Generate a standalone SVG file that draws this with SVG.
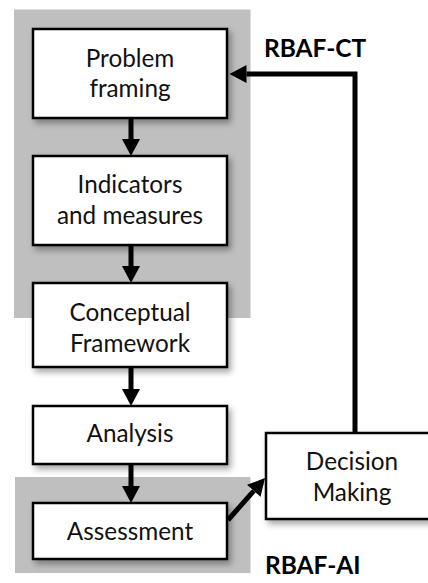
<svg xmlns="http://www.w3.org/2000/svg" width="428" height="583" viewBox="0 0 428 583">
  <style>
    .band { fill: #bfbfbf; }
    .box { fill: #ffffff; stroke: #000000; stroke-width: 2.5; filter: url(#shadow); }
    .lbl { font-family: Lato, "Open Sans", sans-serif; font-size: 24.3px; fill: #111111; text-anchor: middle; }
    .tag { font-family: Lato, "Open Sans", sans-serif; font-size: 24.5px; font-weight: bold; fill: #000000; }
    .wire { fill: none; stroke: #000000; stroke-width: 5; stroke-linejoin: miter; marker-end: url(#head); }
  </style>
  <defs>
    <filter id="shadow" x="-10%" y="-10%" width="130%" height="140%">
      <feDropShadow dx="3" dy="4" stdDeviation="3" flood-color="#000000" flood-opacity="0.35"/>
    </filter>
    <!-- arrowhead: base sits on the path end, tip points 17px forward -->
    <marker id="head" markerUnits="userSpaceOnUse" markerWidth="18" markerHeight="18" refX="0" refY="9" orient="auto" overflow="visible">
      <path d="M0,0 L17,9 L0,18 Z" fill="#000000"/>
    </marker>
  </defs>

  <!-- shaded bands -->
  <rect class="band" x="14" y="9.5" width="236.5" height="308.5"/>
  <rect class="band" x="15" y="477" width="235.5" height="96"/>

  <g id="problem-framing">
    <rect class="box" x="33" y="29" width="194" height="89"/>
    <text class="lbl" x="130" y="67">Problem</text>
    <text class="lbl" x="130" y="97">framing</text>
  </g>
  <g id="indicators-measures">
    <rect class="box" x="33" y="156" width="194" height="89"/>
    <text class="lbl" x="130" y="193">Indicators</text>
    <text class="lbl" x="130" y="224">and measures</text>
  </g>
  <g id="conceptual-framework">
    <rect class="box" x="33" y="283" width="194" height="84"/>
    <text class="lbl" x="130" y="321">Conceptual</text>
    <text class="lbl" x="130" y="352">Framework</text>
  </g>
  <g id="analysis">
    <rect class="box" x="33" y="406" width="194" height="58"/>
    <text class="lbl" x="130" y="442">Analysis</text>
  </g>
  <g id="assessment">
    <rect class="box" x="33" y="503" width="194" height="56"/>
    <text class="lbl" x="130" y="540">Assessment</text>
  </g>
  <g id="decision-making">
    <rect class="box" x="266" y="433" width="175" height="86"/>
    <text class="lbl" x="352" y="470">Decision</text>
    <text class="lbl" x="352" y="501">Making</text>
  </g>

  <g id="connectors">
    <path class="wire" d="M131,118 V139"/>
    <path class="wire" d="M131,245 V266"/>
    <path class="wire" d="M131,367 V389"/>
    <path class="wire" d="M131,464 V486"/>
    <path class="wire" d="M228,520 L253.8,490.8"/>
    <path class="wire" d="M355,433 V74 H246.5"/>
  </g>

  <g id="labels">
    <text class="tag" x="264" y="57">RBAF-CT</text>
    <text class="tag" x="265" y="574">RBAF-AI</text>
  </g>
</svg>
